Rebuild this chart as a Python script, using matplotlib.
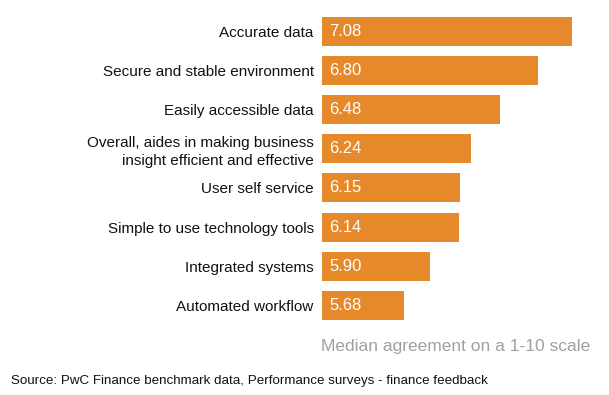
import matplotlib
matplotlib.use("Agg")
import matplotlib.pyplot as plt

plt.rcParams['font.family'] = ['Liberation Sans', 'DejaVu Sans']

categories = [
    "Accurate data",
    "Secure and stable environment",
    "Easily accessible data",
    "Overall, aides in making business\ninsight efficient and effective",
    "User self service",
    "Simple to use technology tools",
    "Integrated systems",
    "Automated workflow",
]
values = [7.08, 6.80, 6.48, 6.24, 6.15, 6.14, 5.90, 5.68]
axis_start = 5.0

BAR = '#E6892A'

fig = plt.figure(figsize=(6.09, 3.95), dpi=100)
W, H = 609, 395
left_px, right_px = 322, 322 + 2.1 * 120
top_px, bot_px = 11.8, 325.0
ax = fig.add_axes([left_px / W, 1 - bot_px / H, (right_px - left_px) / W, (bot_px - top_px) / H])

y = list(range(len(categories)))
ax.barh(y, [v - axis_start for v in values], left=axis_start, height=0.74, color=BAR)
ax.set_xlim(axis_start, axis_start + 2.1)
ax.set_ylim(len(categories) - 0.5, -0.5)

for yi, v in zip(y, values):
    ax.text(axis_start + 0.06, yi, f"{v:.2f}", color='white', fontsize=12,
            va='center', ha='left')

ax.set_yticks(y)
ax.set_yticklabels(categories, fontsize=11, color='#111111', linespacing=1.3)
ax.tick_params(axis='y', length=0, pad=6)
ax.set_xticks([])
for s in ax.spines.values():
    s.set_visible(False)

fig.text(590 / W, 1 - 347 / H, "Median agreement on a 1-10 scale", color='#A0A0A0',
         fontsize=12.5, ha='right', va='center')
fig.text(11 / W, 1 - 381 / H, "Source: PwC Finance benchmark data, Performance surveys - finance feedback",
         color='#111111', fontsize=9.6, ha='left', va='center')

fig.savefig("out.png", dpi=100)
